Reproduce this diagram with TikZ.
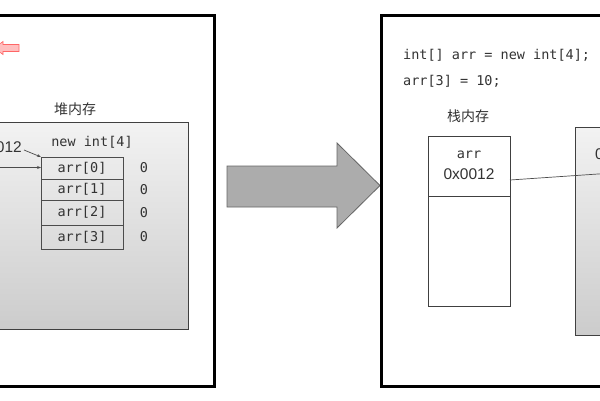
\documentclass[tikz,border=0pt]{standalone}
\usepackage{fontspec}
\setmainfont{Liberation Sans}
\setmonofont{DejaVu Sans Mono}
\newfontfamily\cjk{Noto Sans CJK SC}
\usetikzlibrary{arrows.meta}
\begin{document}
\begin{tikzpicture}[x=1pt,y=-1pt,
  panel/.style={draw=black,line width=3pt},
  heapbox/.style={draw=black!75,line width=0.8pt,top color=gray!10,bottom color=gray!40,inner sep=0pt,outer sep=0pt,anchor=north west},
  cell/.style={draw=black!70,line width=0.8pt,minimum width=82pt,inner sep=0pt,outer sep=0pt,anchor=north west,font=\fontsize{13.5}{16}\selectfont\ttfamily,text=black!80},
  mono/.style={font=\fontsize{13.5}{16}\selectfont\ttfamily,text=black!80,inner sep=0pt},
  sans/.style={font=\fontsize{15.5}{18}\selectfont,text=black!80,inner sep=0pt},
  cjklabel/.style={font=\fontsize{14}{16}\selectfont\cjk,text=black!80,inner sep=0pt},
  stackbox/.style={draw=black!75,line width=0.8pt,fill=white,inner sep=0pt,outer sep=0pt,minimum width=82pt,anchor=north west},
  ptr/.style={draw=black!70,line width=0.7pt,-{Stealth[length=4pt,width=3pt]}},
  bigarrow/.style={draw=gray!80!black,line width=0.8pt,fill=gray!65},
  pinkarrow/.style={draw=red!60,line width=0.6pt,fill=red!25}
]
\useasboundingbox (0,0) rectangle (600,400);
\clip (0,0) rectangle (600,400);
\fill[white] (0,0) rectangle (600,400);

% left panel
\draw[panel] (-10,15) rectangle (214.5,386);
\draw[pinkarrow] (-6,48) -- (3,41.5) -- (3,44.5) -- (19,44.5) -- (19,51.5) -- (3,51.5) -- (3,54.5) -- cycle;
\node[cjklabel] (heaplbl) at (75,109) {堆内存};
\node[heapbox,minimum width=198pt,minimum height=207pt] (heap) at (-10,122) {};
\node[mono] (newint) at (92,142) {new int[4]};
\node[cell,minimum height=22pt] (a0) at (41,157) {arr[0]};
\node[cell,minimum height=21pt] (a1) at (41,179) {arr[1]};
\node[cell,minimum height=25pt] (a2) at (41,200) {arr[2]};
\node[cell,minimum height=24pt] (a3) at (41,225) {arr[3]};
\coordinate (vcol) at (144,0);
\node[mono] (v0) at (vcol |- a0.center) {0};
\node[mono] (v1) at (vcol |- a1.center) {0};
\node[mono] (v2) at (vcol |- a2.center) {0};
\node[mono] (v3) at (vcol |- a3.center) {0};
\node[sans,anchor=east] (addr) at (22,147) {0x0012};
\coordinate (in0) at (-10,167.5);
\coordinate (addrend) at (24,150);
\draw[ptr] (addrend) -- (a0.north west);
\draw[ptr] (in0) -- (a0.west |- in0);

% middle arrow
\draw[bigarrow] (227,166) -- (337,166) -- (337,143) -- (380,185.5) -- (337,228) -- (337,207) -- (227,207) -- cycle;

% right panel
\draw[panel] (381.5,15) rectangle (620,386);
\node[mono,anchor=west] (code1) at (403,55) {int[] arr = new int[4];};
\node[mono,anchor=west] (code2) at (403,81) {arr[3] = 10;};
\node[cjklabel] (stacklbl) at (468,116) {栈内存};
\node[stackbox,minimum height=60pt] (stk) at (428,136) {};
\node[stackbox,minimum height=110pt] (stk2) at (428,196) {};
\node[mono] (arrname) at (469,155) {arr};
\node[sans] (arrval) at (469,174) {0x0012};
\node[heapbox,minimum width=60pt,minimum height=208pt] (heapR) at (575,127) {};
\node[sans,anchor=west] (heapRaddr) at (595,154) {0x0012};
\coordinate (s1) at (510,180);
\coordinate (h1) at (620,172.5);
\draw[draw=black!70,line width=0.7pt] (s1) -- (h1);
\end{tikzpicture}
\end{document}
